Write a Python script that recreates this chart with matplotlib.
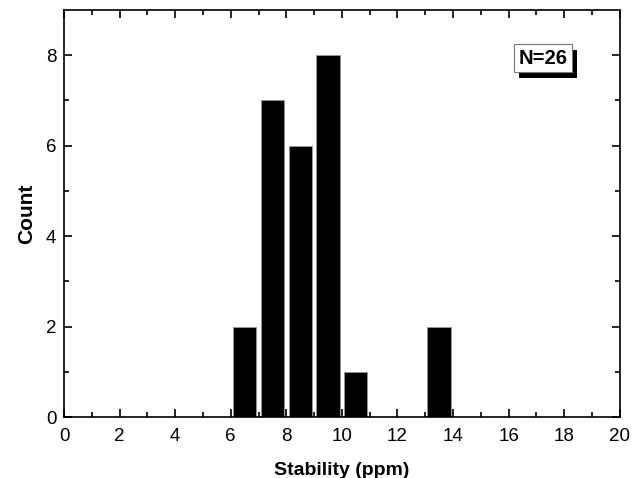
import matplotlib
matplotlib.use("Agg")
import matplotlib.pyplot as plt
import matplotlib.patheffects as pe

# Histogram bins (left edges) and counts
bin_left = [6, 7, 8, 9, 10, 13]
counts = [2, 7, 6, 8, 1, 2]
n_label = "N=26"

plt.rcParams["font.family"] = ["Liberation Sans", "DejaVu Sans"]

fig = plt.figure(figsize=(6.39, 4.78), dpi=100)
ax = fig.add_axes([0.1002, 0.1276, 0.8696, 0.8514])

centers = [b + 0.5 for b in bin_left]
ax.bar(centers, counts, width=0.84, color="black", edgecolor="#999999", linewidth=0.6)

ax.set_xlim(0, 20)
ax.set_ylim(0, 9)
ax.set_xticks(range(0, 21, 2))
ax.set_xticks(range(1, 21, 2), minor=True)
ax.set_yticks(range(0, 9, 2))
ax.set_yticks(range(1, 9, 2), minor=True)
ax.tick_params(which="both", direction="in", top=True, right=True, labelsize=13.5, width=1.2)
ax.tick_params(which="major", length=6)
ax.tick_params(which="minor", length=3.5)
ax.tick_params(axis="x", pad=8)
ax.tick_params(axis="y", pad=5.5)
for s in ax.spines.values():
    s.set_linewidth(1.2)

ax.set_xlabel("Stability (ppm)", fontsize=14, fontweight="bold", labelpad=12)
ax.set_ylabel("Count", fontsize=15, fontweight="bold", labelpad=7)

# Label box with drop shadow
t = ax.text(17.23, 7.93, n_label, fontsize=14.5, fontweight="bold", ha="center", va="center",
            bbox=dict(boxstyle="square,pad=0.22", facecolor="white", edgecolor="#777777", linewidth=0.8))
t.get_bbox_patch().set_path_effects([
    pe.SimplePatchShadow(offset=(4, -4), shadow_rgbFace="black", alpha=1.0),
    pe.Normal(),
])

fig.savefig("out.png", dpi=100)
